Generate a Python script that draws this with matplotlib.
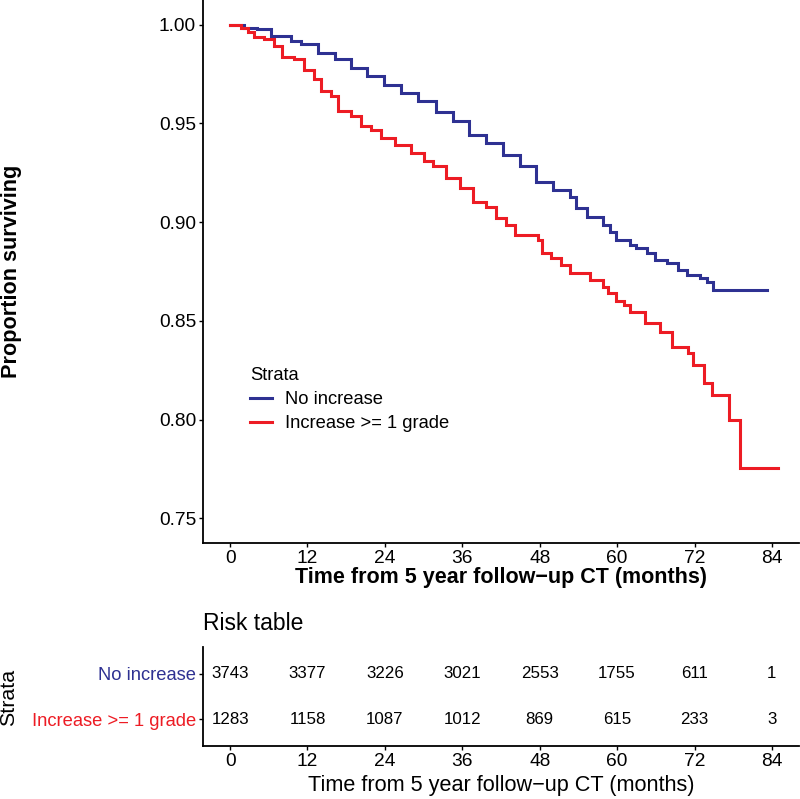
import matplotlib
matplotlib.use("Agg")
import matplotlib.pyplot as plt

plt.rcParams['font.family'] = ['Liberation Sans', 'DejaVu Sans']

# ---- data ----
strata = ["No increase", "Increase >= 1 grade"]
colors = ["#2E3192", "#ED1C24"]

t_no = [0, 2.2, 4.2, 6.3, 9.4, 11.0, 13.6, 16.2, 18.7, 21.3, 23.9, 26.5, 29.1,
        32.0, 34.5, 37.1, 39.7, 42.3, 44.9, 47.5, 50.1, 52.7, 53.7, 55.3, 57.8,
        58.9, 59.9, 62.0, 63.0, 64.6, 65.9, 67.7, 69.5, 70.8, 72.9, 73.9, 74.9, 83.2]
s_no = [1.0, 0.9985, 0.9976, 0.9943, 0.9917, 0.990, 0.9858, 0.9824, 0.9782, 0.974,
        0.9697, 0.9655, 0.9613, 0.956, 0.951, 0.9442, 0.940, 0.934, 0.9282, 0.9205,
        0.9163, 0.9129, 0.907, 0.9028, 0.8986, 0.8952, 0.891, 0.8884, 0.8868, 0.8846,
        0.8808, 0.8792, 0.8758, 0.8732, 0.8715, 0.8698, 0.8656, 0.8656]

t_inc = [0, 1.7, 2.7, 3.7, 5.3, 6.8, 8.1, 9.9, 11.5, 13.0, 14.1, 15.6, 16.7, 18.7,
         20.3, 21.9, 23.4, 25.5, 28.1, 30.1, 31.4, 33.5, 35.6, 37.6, 39.7, 41.3,
         42.8, 44.1, 47.7, 48.3, 49.8, 51.3, 52.7, 55.8, 57.8, 58.6, 59.9, 61.0,
         62.0, 64.3, 66.6, 68.5, 71.0, 71.8, 73.5, 74.7, 77.4, 79.0, 85.0]
s_inc = [1.0, 0.9985, 0.9965, 0.9937, 0.9926, 0.9892, 0.9836, 0.9824, 0.9773, 0.9723,
         0.9664, 0.9638, 0.9562, 0.9537, 0.9486, 0.9469, 0.9427, 0.9393, 0.9351,
         0.9309, 0.9282, 0.9223, 0.9172, 0.9104, 0.9079, 0.902, 0.8986, 0.8935,
         0.891, 0.8842, 0.8817, 0.8783, 0.8741, 0.8707, 0.8673, 0.8640, 0.8600,
         0.858, 0.8546, 0.8487, 0.8445, 0.8369, 0.8338, 0.8276, 0.8183, 0.8124,
         0.7997, 0.7755, 0.7755]

risk_times = [0, 12, 24, 36, 48, 60, 72, 84]
risk_no = [3743, 3377, 3226, 3021, 2553, 1755, 611, 1]
risk_inc = [1283, 1158, 1087, 1012, 869, 615, 233, 3]

x_ticks = [0, 12, 24, 36, 48, 60, 72, 84]
y_ticks = [0.75, 0.80, 0.85, 0.90, 0.95, 1.00]
xlabel = "Time from 5 year follow\u2212up CT (months)"

# ---- figure ----
W, H = 800, 799
fig = plt.figure(figsize=(W / 100, H / 100), dpi=100)

def px_axes(l, t, r, b):
    return fig.add_axes([l / W, 1 - b / H, (r - l) / W, (b - t) / H])

ax = px_axes(203, 0, 799, 543)
ax.step(t_no, s_no, where='post', color=colors[0], lw=2.2, label=strata[0],
        solid_joinstyle='miter')
ax.step(t_inc, s_inc, where='post', color=colors[1], lw=2.2, label=strata[1],
        solid_joinstyle='miter')
ax.set_xlim(-4.2, 88.2)
ax.set_ylim(0.7375, 1.0125)
ax.set_xticks(x_ticks)
ax.set_yticks(y_ticks)
ax.set_yticklabels([f"{v:.2f}" for v in y_ticks])
for s in ['top', 'right']:
    ax.spines[s].set_visible(False)
for s in ['left', 'bottom']:
    ax.spines[s].set_linewidth(1.3)
ax.tick_params(axis='both', length=3, width=1.0, pad=2, labelsize=13.8, colors='black')

ax.set_xlabel(xlabel, fontsize=15.5, fontweight='bold')
ax.xaxis.set_label_coords(0.5, (543 - 577) / 543)
ax.xaxis.label.set_va('center')
ax.set_ylabel("Proportion surviving", fontsize=15.6, fontweight='bold')
ax.yaxis.set_label_coords((12 - 203) / 596, 0.5)
ax.yaxis.label.set_va('center')

leg = ax.legend(title="Strata", loc='upper left',
                bbox_to_anchor=((250 - 203) / 596, 1 - 367 / 543),
                frameon=False, fontsize=13.2, title_fontsize=13.2,
                handlelength=1.2, handletextpad=0.7, labelspacing=0.38,
                borderpad=0, borderaxespad=0, alignment='left')

# ---- risk table ----
ax2 = px_axes(203, 647, 799, 746)
ax2.set_xlim(-4.2, 88.2)
ax2.set_ylim(2.6, 0.4)
for t, n in zip(risk_times, risk_no):
    ax2.text(t, 1, str(n), ha='center', va='center', fontsize=12.2)
for t, n in zip(risk_times, risk_inc):
    ax2.text(t, 2, str(n), ha='center', va='center', fontsize=12.2)
ax2.set_xticks(x_ticks)
ax2.set_yticks([1, 2])
ax2.set_yticklabels(strata)
for lab, c in zip(ax2.get_yticklabels(), colors):
    lab.set_color(c)
for s in ['top', 'right']:
    ax2.spines[s].set_visible(False)
for s in ['left', 'bottom']:
    ax2.spines[s].set_linewidth(1.3)
ax2.tick_params(axis='x', length=3, width=1.0, pad=2, labelsize=13.8)
ax2.tick_params(axis='y', length=3, width=1.0, pad=2, labelsize=13.2)
ax2.set_xlabel(xlabel, fontsize=15.6)
ax2.xaxis.set_label_coords(0.5, (746 - 785) / 99)
ax2.xaxis.label.set_va('center')
ax2.set_ylabel("Strata", fontsize=15.4)
ax2.yaxis.set_label_coords((9 - 203) / 596, (746 - 697) / 99)
ax2.yaxis.label.set_va('center')
ax2.text(0, 1 + (647 - 623) / 99, "Risk table", transform=ax2.transAxes,
         ha='left', va='center', fontsize=16.5)

fig.savefig("out.png", dpi=100)
